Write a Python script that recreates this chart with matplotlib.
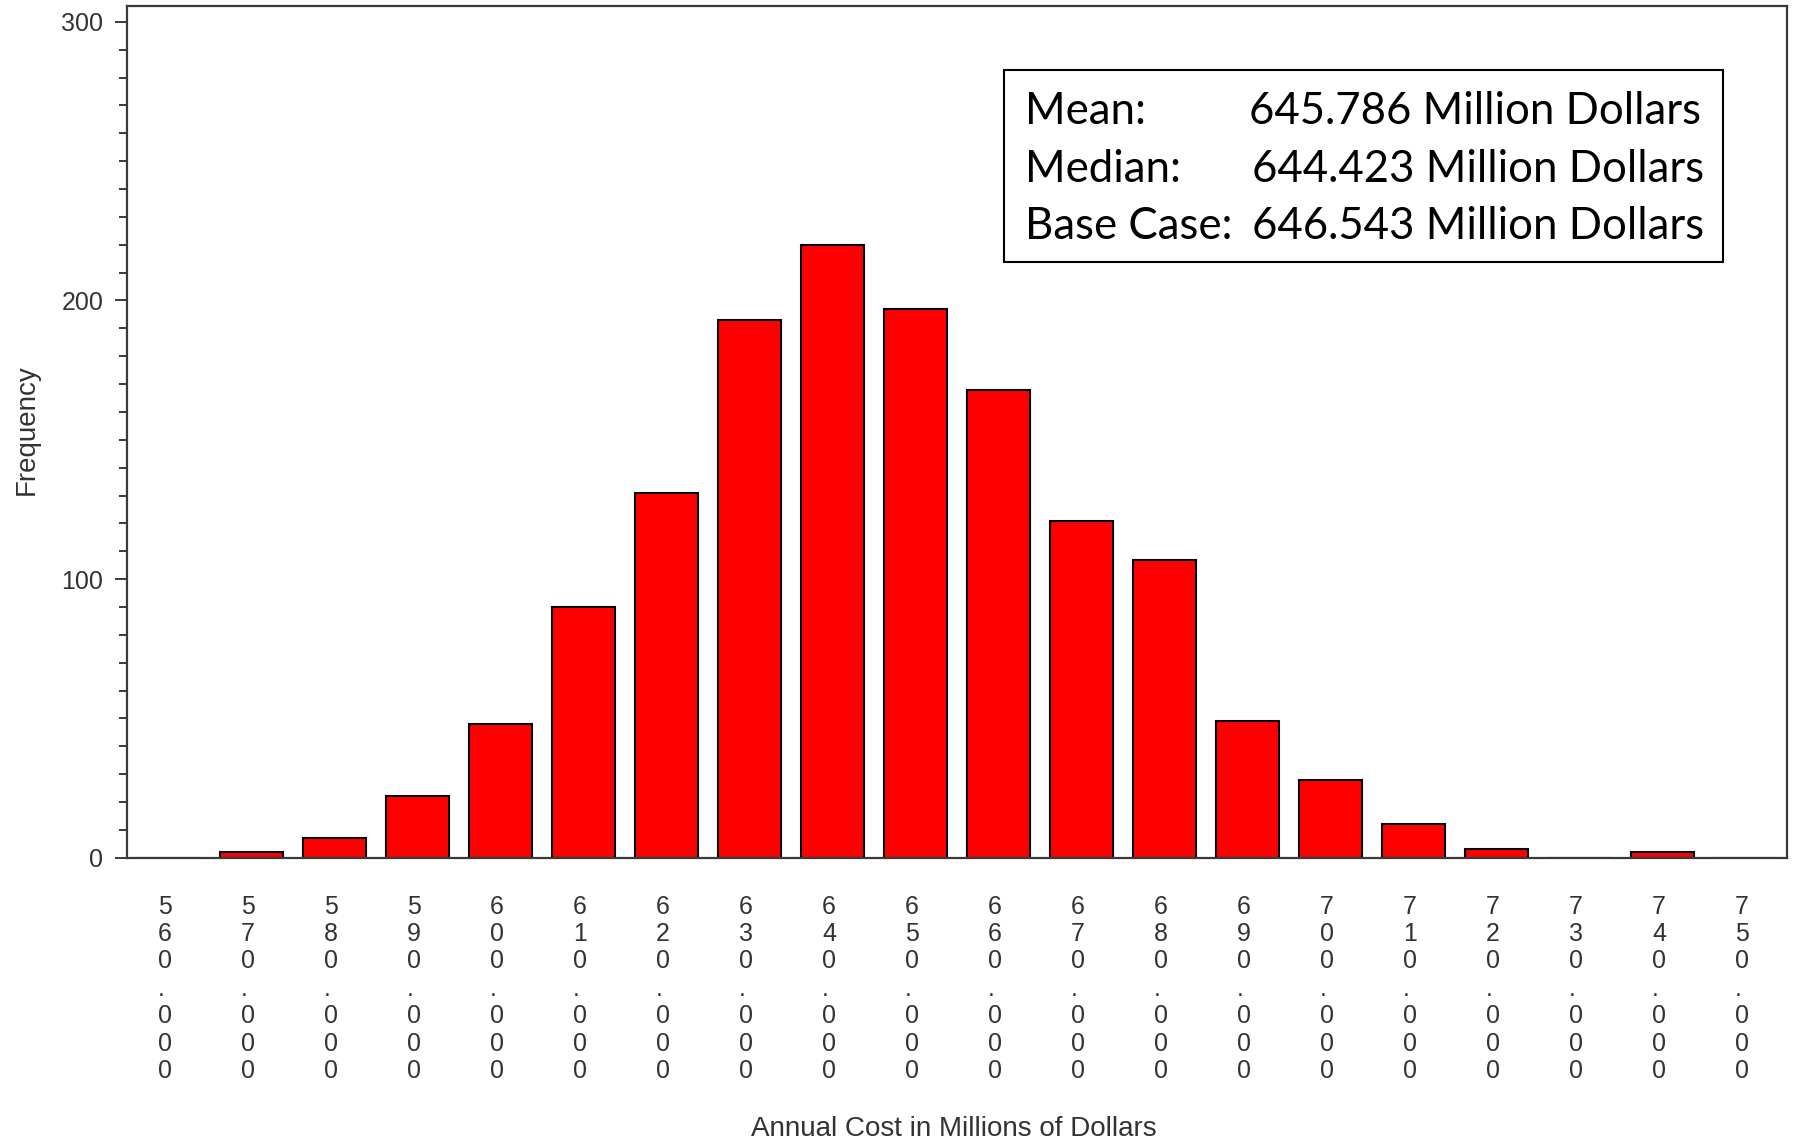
import matplotlib
matplotlib.use("Agg")
import matplotlib.pyplot as plt
from matplotlib.ticker import MultipleLocator
from matplotlib.patches import Rectangle
from matplotlib.transforms import ScaledTranslation

# ---- data ----
midpoints = [560, 570, 580, 590, 600, 610, 620, 630, 640, 650,
             660, 670, 680, 690, 700, 710, 720, 730, 740, 750]
frequency = [0, 2, 7, 22, 48, 90, 131, 193, 220, 197,
             168, 121, 107, 49, 28, 12, 3, 0, 2, 0]
tick_labels = ["%.3f" % m for m in midpoints]
stat_names = ["Mean:", "Median:", "Base Case:"]
stat_values = ["645.786 Million Dollars", "644.423 Million Dollars", "646.543 Million Dollars"]

W, H = 1793, 1139
fig = plt.figure(figsize=(W / 100, H / 100), dpi=100)
ax = fig.add_axes([126.7 / W, 1 - 857.7 / H, (1786.7 - 126.7) / W, (857.7 - 6) / H])

ax.bar(midpoints, frequency, width=7.6, color="#ff0000", edgecolor="black",
       linewidth=1.5, zorder=2)

ax.set_xlim(555.0, 755.0)
ax.set_ylim(0, 305.7)

txtcol = "#333333"
spcol = "#3a3a3a"
for s in ax.spines.values():
    s.set_linewidth(1.6)
    s.set_color(spcol)

ax.yaxis.set_major_locator(MultipleLocator(100))
ax.yaxis.set_minor_locator(MultipleLocator(10))
ax.tick_params(axis="y", which="major", direction="out", length=8.4, width=1.4,
               color=spcol, pad=8.5, labelsize=18, labelcolor=txtcol)
ax.tick_params(axis="y", which="minor", direction="out", length=5.5, width=1.4, color=spcol)
for t in ax.get_yticklabels():
    t.set_fontfamily("Liberation Sans")

ax.set_xticks(midpoints)
ax.set_xticklabels(["\n".join(lbl) for lbl in tick_labels])
ax.tick_params(axis="x", which="both", length=0, pad=26.5, labelsize=18, labelcolor=txtcol)
shift = ScaledTranslation(-3 / 100, 0, fig.dpi_scale_trans)
for t in ax.get_xticklabels():
    t.set_fontfamily("Liberation Sans")
    t.set_linespacing(1.18)
    t.set_multialignment("left")
    t.set_verticalalignment("top")
    t.set_transform(t.get_transform() + shift)

fig.text(954 / W, 1 - 1136 / H, "Annual Cost in Millions of Dollars", ha="center",
         va="baseline", fontsize=20, color=txtcol, family="Liberation Sans")
fig.text(26.7 / W, 1 - 430 / H, "Frequency", ha="center", va="center", rotation=90,
         fontsize=20, color=txtcol, family="Liberation Sans")

# stats box
box = Rectangle((1004 / W, 1 - 262 / H), (1723 - 1004) / W, (262 - 70) / H,
                transform=fig.transFigure, facecolor="white", edgecolor="black",
                linewidth=1.5, zorder=5)
fig.patches.append(box)
baselines = [123.5, 181.8, 239.0]
value_x = [1248.8, 1252.2, 1252.2]
for name, val, b, vx in zip(stat_names, stat_values, baselines, value_x):
    fig.text(1024.6 / W, 1 - b / H, name, ha="left", va="baseline", fontsize=31.5,
             family="Lato", color="black", zorder=6)
    fig.text(vx / W, 1 - b / H, val, ha="left", va="baseline", fontsize=31.5,
             family="Lato", color="black", zorder=6)

fig.savefig("out.png", dpi=100)
